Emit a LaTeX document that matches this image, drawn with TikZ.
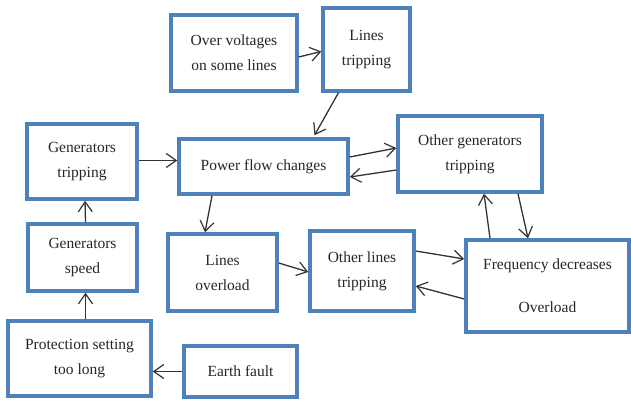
\documentclass[tikz,border=0pt]{standalone}
\usepackage{fontspec}
\setmainfont{Liberation Serif}
\usepackage{tikz}
\usetikzlibrary{arrows.meta}
\definecolor{boxblue}{RGB}{79,129,189}

\begin{document}
\begin{tikzpicture}[x=1pt,y=-1pt,
		box/.style={draw=boxblue,line width=3.5pt,fill=white,align=center,inner sep=0pt,
			text=black!85,font=\fontsize{15.5}{25}\selectfont},
		arr/.style={-{Straight Barb[length=10pt,width=14pt,line width=1.2pt]},line width=1.3pt,black!80}]
			\useasboundingbox (0,0) rectangle (631,403);
			% boxes
			\node[box,minimum width=126,minimum height=76] (over) at (234,53) {Over voltages\\on some lines};
			\node[box,minimum width=87,minimum height=83] (ltrip) at (366.5,49.5) {Lines\\tripping};
			\node[box,minimum width=110,minimum height=75] (gtrip) at (82,161.5) {Generators\\tripping};
			\node[box,minimum width=169,minimum height=55] (flow) at (263.5,166.5) {Power flow changes};
			\node[box,minimum width=144,minimum height=76] (ogen) at (470,154) {Other generators\\tripping};
			\node[box,minimum width=109,minimum height=67] (gspeed) at (82.5,257.5) {Generators\\speed};
			\node[box,minimum width=109,minimum height=77] (lover) at (222.5,272.5) {Lines\\overload};
			\node[box,minimum width=104,minimum height=80] (olines) at (362,271) {Other lines\\tripping};
			\node[box,minimum width=163,minimum height=92] (freq) at (547.5,286) {Frequency decreases\\[18pt]Overload};
			\node[box,minimum width=143,minimum height=75] (prot) at (79.5,358.5) {Protection setting\\too long};
			\node[box,minimum width=113,minimum height=51] (earth) at (240.5,371.5) {Earth fault};
			% connectors
			\draw[arr] ([yshift=-4pt]over.east) -- ([yshift=-2pt]ltrip.west);
			\draw[arr] ([xshift=-28pt]ltrip.south) -- ([xshift=51pt,yshift=2pt]flow.north);
			\draw[arr] ([yshift=1pt]gtrip.east) -- ([yshift=1pt]gtrip.east -| flow.west);
			\draw[arr] ([yshift=9.5pt]flow.east) -- ([yshift=6pt]ogen.west);
			\draw[arr] ([yshift=-16pt]ogen.west) -- ([yshift=-10.5pt]flow.east);
			\draw[arr] ([xshift=-51.5pt]flow.south) -- ([xshift=-17.5pt]lover.north);
			\draw[arr] ([yshift=9.5pt]lover.east) -- ([yshift=-1pt]olines.west);
			\draw[arr] ([yshift=20pt]olines.east) -- ([yshift=27pt]freq.west);
			\draw[arr] ([yshift=-13pt]freq.west) -- ([yshift=-15pt]olines.east);
			\draw[arr] ([xshift=-57.5pt]freq.north) -- ([xshift=14pt]ogen.south);
			\draw[arr] ([xshift=48pt]ogen.south) -- ([xshift=-19.5pt]freq.north);
			\draw[arr] ([xshift=3pt]gspeed.north) -- ([xshift=3pt]gtrip.south);
			\draw[arr] ([xshift=3pt]gspeed.south |- prot.north) -- ([xshift=3pt]gspeed.south);
			\draw[arr] (earth.west) -- (earth.west -| prot.east);
		\end{tikzpicture}
\end{document}
